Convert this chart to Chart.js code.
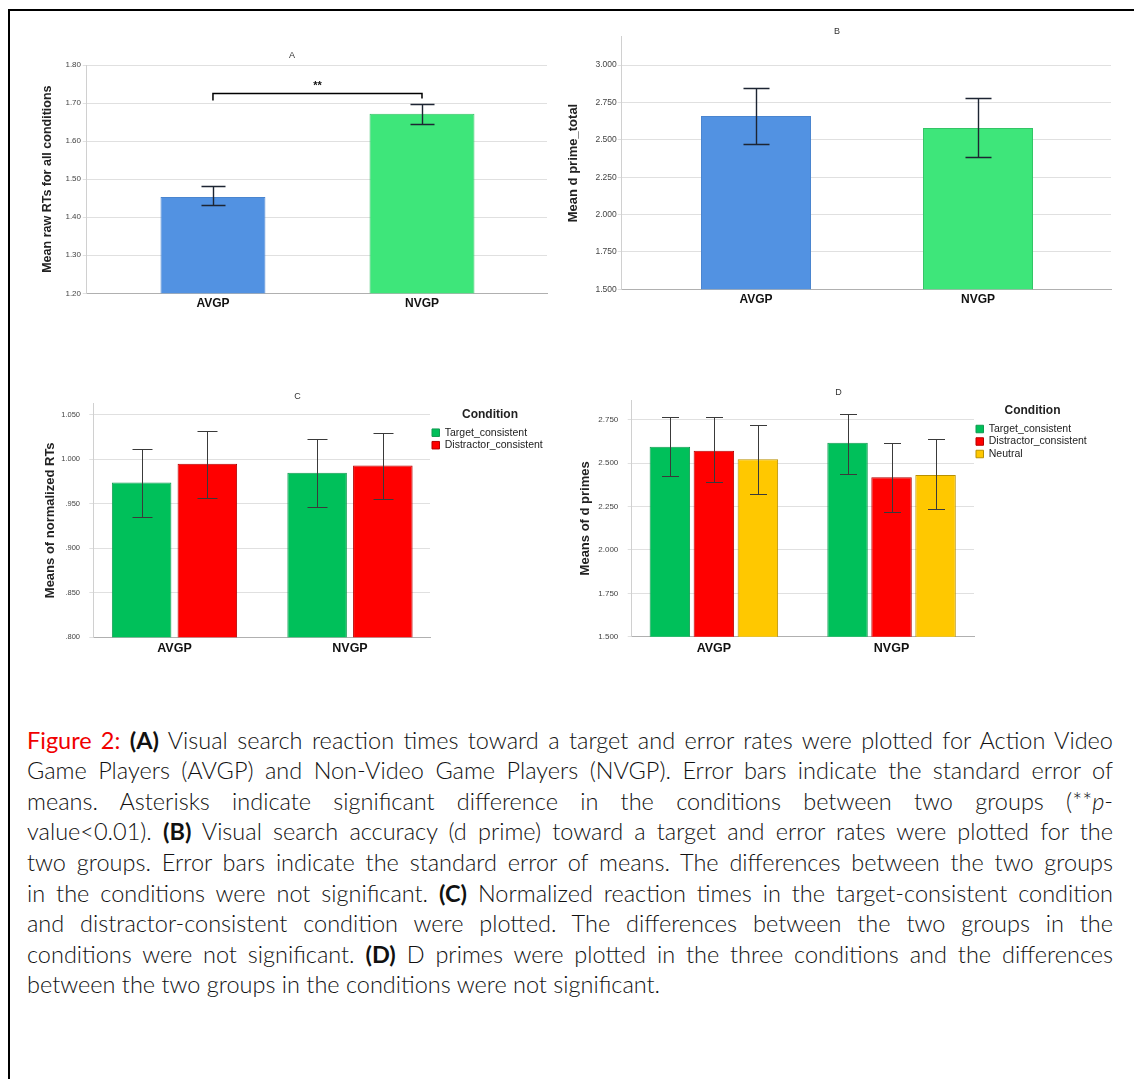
<!DOCTYPE html>
<html>
<head>
<meta charset="utf-8">
<title>Figure 2</title>
<script src="https://cdn.jsdelivr.net/npm/chart.js@4.4.1/dist/chart.umd.min.js"></script>
<style>
  html, body { margin: 0; padding: 0; background: #fff; overflow: hidden; }
  body { width: 1134px; height: 1079px; position: relative; }
  #frame { position: absolute; left: 8px; top: 9px; width: 1200px; height: 1200px;
           border-left: 2px solid #000; border-top: 2px solid #000; }
  canvas { position: absolute; }
  #chartA { left: 37px; top: 40px; }
  #chartB { left: 563px; top: 15px; }
  #chartC { left: 35px; top: 380px; }
  #chartD { left: 576px; top: 375px; }
  #caption { position: absolute; left: 27px; top: 724.7px; width: 1086px;
             font-family: Lato, "Open Sans", sans-serif; font-size: 23.5px; font-weight: 300; color: #111; }
  .ln { height: 30.6px; line-height: 30.6px; white-space: nowrap; text-align: justify; text-align-last: justify; }
  .ln.last { text-align-last: left; }
  .fig { color: #f00000; font-weight: 400; }
  b { font-weight: 700; }
</style>
</head>
<body>
<div id="frame"></div>
<canvas id="chartA" width="528" height="274"></canvas>
<canvas id="chartB" width="558" height="295"></canvas>
<canvas id="chartC" width="520" height="280"></canvas>
<canvas id="chartD" width="520" height="285"></canvas>

<div id="caption">
  <div class="ln"><span class="fig">Figure 2:</span> <b>(A)</b> Visual search reaction times toward a target and error rates were plotted for Action Video</div>
  <div class="ln">Game Players (AVGP) and Non-Video Game Players (NVGP). Error bars indicate the standard error of</div>
  <div class="ln">means. Asterisks indicate significant difference in the conditions between two groups (**<i>p</i>-</div>
  <div class="ln">value&lt;0.01). <b>(B)</b> Visual search accuracy (d prime) toward a target and error rates were plotted for the</div>
  <div class="ln">two groups. Error bars indicate the standard error of means. The differences between the two groups</div>
  <div class="ln">in the conditions were not significant. <b>(C)</b> Normalized reaction times in the target-consistent condition</div>
  <div class="ln">and distractor-consistent condition were plotted. The differences between the two groups in the</div>
  <div class="ln">conditions were not significant. <b>(D)</b> D primes were plotted in the three conditions and the differences</div>
  <div class="ln last">between the two groups in the conditions were not significant.</div>
</div>

<script>
const groups = ['AVGP', 'NVGP'];
const conditions = ['Target_consistent', 'Distractor_consistent', 'Neutral'];

// A: raw RTs
const rtMeans = [1.453, 1.672];
const rtLow = [1.432, 1.646];
const rtHigh = [1.481, 1.698];
const rtTicks = [1.2, 1.3, 1.4, 1.5, 1.6, 1.7, 1.8];
const rtTickLabels = ['1.20', '1.30', '1.40', '1.50', '1.60', '1.70', '1.80'];
const sigBracket = { from: 0, to: 1, level: 1.725, leftEnd: 1.707, rightEnd: 1.712, textAt: 1.746, text: '**' };

// B: d prime total
const dpMeans = [2.66, 2.58];
const dpLow = [2.471, 2.382];
const dpHigh = [2.849, 2.78];
const dpTicks = [1.5, 1.75, 2.0, 2.25, 2.5, 2.75, 3.0];
const dpTickLabels = ['1.500', '1.750', '2.000', '2.250', '2.500', '2.750', '3.000'];

// C: normalized RTs
const nrtTarget = [0.974, 0.985];
const nrtTargetLow = [0.935, 0.946];
const nrtTargetHigh = [1.012, 1.023];
const nrtDistractor = [0.995, 0.993];
const nrtDistractorLow = [0.957, 0.955];
const nrtDistractorHigh = [1.032, 1.030];
const nrtTicks = [0.8, 0.85, 0.9, 0.95, 1.0, 1.05];
const nrtTickLabels = ['.800', '.850', '.900', '.950', '1.000', '1.050'];

// D: d primes per condition
const dTarget = [2.596, 2.619];
const dTargetLow = [2.429, 2.439];
const dTargetHigh = [2.769, 2.785];
const dDistractor = [2.573, 2.42];
const dDistractorLow = [2.394, 2.221];
const dDistractorHigh = [2.769, 2.619];
const dNeutral = [2.524, 2.433];
const dNeutralLow = [2.322, 2.235];
const dNeutralHigh = [2.722, 2.639];
const dTicks = [1.5, 1.75, 2.0, 2.25, 2.5, 2.75];
const dTickLabels = ['1.500', '1.750', '2.000', '2.250', '2.500', '2.750'];

const groupColors = ['#5292e2', '#3ee67a'];
const groupBorders = ['#4a85cf', '#34c466'];
const conditionColors = ['#00c05a', '#ff0000', '#ffc800'];
const conditionBorders = ['#119a50', '#b40000', '#b89000'];

const FONT = '"Liberation Sans", Arial, sans-serif';
Chart.defaults.font.family = FONT;

const pointsFor = values => values.map((v, i) => ({ x: i, y: v }));

const errorBars = {
  id: 'errorBars',
  afterDatasetsDraw(chart, args, opts) {
    const { ctx } = chart;
    const y = chart.scales.y;
    const half = opts.cap / 2;
    ctx.save();
    ctx.strokeStyle = opts.color;
    ctx.lineWidth = opts.width;
    chart.data.datasets.forEach((ds, i) => {
      chart.getDatasetMeta(i).data.forEach((bar, j) => {
        const cx = Math.round(bar.x) + 0.5;
        const top = Math.round(y.getPixelForValue(ds.errHigh[j])) + 0.5;
        const bottom = Math.round(y.getPixelForValue(ds.errLow[j])) + 0.5;
        ctx.beginPath();
        ctx.moveTo(cx, top);
        ctx.lineTo(cx, bottom);
        ctx.moveTo(cx - half, top);
        ctx.lineTo(cx + half, top);
        ctx.moveTo(cx - half, bottom);
        ctx.lineTo(cx + half, bottom);
        ctx.stroke();
      });
    });
    ctx.restore();
  }
};

const bracket = {
  id: 'bracket',
  afterDatasetsDraw(chart, args, opts) {
    if (!opts.text) return;
    const { ctx, scales: { x, y } } = chart;
    const x0 = x.getPixelForValue(opts.from);
    const x1 = x.getPixelForValue(opts.to);
    const yTop = y.getPixelForValue(opts.level);
    ctx.save();
    ctx.strokeStyle = '#000';
    ctx.lineWidth = 1.5;
    ctx.beginPath();
    ctx.moveTo(x0, y.getPixelForValue(opts.leftEnd));
    ctx.lineTo(x0, yTop);
    ctx.lineTo(x1, yTop);
    ctx.lineTo(x1, y.getPixelForValue(opts.rightEnd));
    ctx.stroke();
    ctx.fillStyle = '#111';
    ctx.font = 'bold 11px ' + FONT;
    ctx.textAlign = 'center';
    ctx.textBaseline = 'middle';
    ctx.fillText(opts.text, (x0 + x1) / 2, y.getPixelForValue(opts.textAt));
    ctx.restore();
  }
};

const panel = p => ({
  type: 'bar',
  data: { datasets: p.datasets },
  plugins: p.bracket ? [errorBars, bracket] : [errorBars],
  options: {
    responsive: false,
    animation: false,
    events: [],
    layout: { padding: { left: p.padLeft, right: p.padRight, top: 0, bottom: 0 } },
    datasets: { bar: { categoryPercentage: p.catPct, barPercentage: p.barPct } },
    plugins: {
      title: {
        display: true, text: p.title, color: '#333',
        font: { size: 9, weight: 'normal', lineHeight: 0.8 },
        padding: p.titlePad
      },
      legend: p.legendWidth ? {
        display: true, position: 'right', align: 'start', fullSize: false, maxWidth: p.legendWidth,
        labels: { boxWidth: 7.5, boxHeight: 7.5, padding: 2, color: '#222', font: { size: 10.5 } },
        title: {
          display: true, text: 'Condition', color: '#222',
          font: { size: 12, weight: 'bold' }, padding: p.legendTitlePad
        }
      } : { display: false },
      tooltip: { enabled: false },
      errorBars: p.errors,
      bracket: p.bracket || {}
    },
    scales: {
      x: {
        type: 'linear', min: p.xMin, max: p.xMax, offset: false,
        afterBuildTicks: s => { s.ticks = groups.map((g, i) => ({ value: i })); },
        afterFit: s => { s.height = p.xHeight; },
        grid: { display: false, drawTicks: false, offset: false },
        border: { color: '#b0b0b0' },
        ticks: {
          callback: v => groups[v], color: '#111', maxRotation: 0, padding: p.catPad,
          font: { size: p.catSize, weight: 'bold' }
        }
      },
      y: {
        min: p.yMin, max: p.yMax,
        afterBuildTicks: s => { s.ticks = p.yTicks.map(v => ({ value: v })); },
        afterFit: s => { s.width = p.yWidth; },
        grid: { color: '#e0e0e0', tickLength: 4 },
        border: { color: '#d0d0d0' },
        ticks: {
          callback: (v, i) => p.yTickLabels[i], color: '#444', padding: p.tickPad,
          font: { size: p.tickSize }
        },
        title: {
          display: true, text: p.yTitle, color: '#222',
          font: { size: p.yTitleSize, weight: 'bold', lineHeight: 1 },
          padding: { top: p.yTitlePad, bottom: 0 }
        }
      }
    }
  }
});

new Chart(document.getElementById('chartA'), panel({
  title: 'A', titlePad: { top: 12.4, bottom: 5.4 }, padLeft: 0, padRight: 18,
  xMin: -0.604, xMax: 1.598, xHeight: 20.7, catSize: 12, catPad: 3.5,
  yMin: 1.2, yMax: 1.8, yTicks: rtTicks, yTickLabels: rtTickLabels, yWidth: 49.7,
  tickSize: 8, tickPad: 1.7,
  yTitle: 'Mean raw RTs for all conditions', yTitleSize: 12.5, yTitlePad: 4.75,
  catPct: 1, barPct: 0.502,
  errors: { color: '#1d2533', width: 1.4, cap: 24 },
  bracket: sigBracket,
  datasets: [{
    data: pointsFor(rtMeans), errLow: rtLow, errHigh: rtHigh,
    backgroundColor: groupColors, borderColor: groupBorders, borderWidth: 1
  }]
}));

new Chart(document.getElementById('chartB'), panel({
  title: 'B', titlePad: { top: 13.4, bottom: 1.1 }, padLeft: 0, padRight: 10,
  xMin: -0.605, xMax: 1.599, xHeight: 20.7, catSize: 12, catPad: 3.5,
  yMin: 1.5, yMax: 3.19, yTicks: dpTicks, yTickLabels: dpTickLabels, yWidth: 58.7,
  tickSize: 8.5, tickPad: 1,
  yTitle: 'Mean d prime_total', yTitleSize: 13, yTitlePad: 3.8,
  catPct: 1, barPct: 0.4955,
  errors: { color: '#1d2533', width: 1.4, cap: 26 },
  datasets: [{
    data: pointsFor(dpMeans), errLow: dpLow, errHigh: dpHigh,
    backgroundColor: groupColors, borderColor: groupBorders, borderWidth: 1
  }]
}));

new Chart(document.getElementById('chartC'), panel({
  title: 'C', titlePad: { top: 13.1, bottom: 3.0 }, padLeft: 10, padRight: 5,
  xMin: -0.4626, xMax: 1.456, xHeight: 22.7, catSize: 12.5, catPad: 4.2,
  yMin: 0.8, yMax: 1.063, yTicks: nrtTicks, yTickLabels: nrtTickLabels, yWidth: 48.3,
  tickSize: 7.5, tickPad: 9.3,
  yTitle: 'Means of normalized RTs', yTitleSize: 13, yTitlePad: -1.5,
  catPct: 0.749, barPct: 0.906,
  legendWidth: 120, legendTitlePad: { top: 5, bottom: 2.75 },
  errors: { color: '#3a3a3a', width: 1, cap: 20 },
  datasets: [
    { label: conditions[0], data: pointsFor(nrtTarget), errLow: nrtTargetLow, errHigh: nrtTargetHigh,
      backgroundColor: conditionColors[0], borderColor: conditionBorders[0], borderWidth: 1 },
    { label: conditions[1], data: pointsFor(nrtDistractor), errLow: nrtDistractorLow, errHigh: nrtDistractorHigh,
      backgroundColor: conditionColors[1], borderColor: conditionBorders[1], borderWidth: 1 }
  ]
}));

new Chart(document.getElementById('chartD'), panel({
  title: 'D', titlePad: { top: 14.1, bottom: 3.7 }, padLeft: 10, padRight: 5,
  xMin: -0.4625, xMax: 1.464, xHeight: 23.3, catSize: 12.5, catPad: 4.1,
  yMin: 1.5, yMax: 2.865, yTicks: dTicks, yTickLabels: dTickLabels, yWidth: 45.7,
  tickSize: 8, tickPad: 9.4,
  yTitle: 'Means of d primes', yTitleSize: 13, yTitlePad: -7.5,
  catPct: 0.743, barPct: 0.92,
  legendWidth: 117, legendTitlePad: { top: 4.7, bottom: 2.65 },
  errors: { color: '#3a3a3a', width: 1, cap: 17 },
  datasets: [
    { label: conditions[0], data: pointsFor(dTarget), errLow: dTargetLow, errHigh: dTargetHigh,
      backgroundColor: conditionColors[0], borderColor: conditionBorders[0], borderWidth: 1 },
    { label: conditions[1], data: pointsFor(dDistractor), errLow: dDistractorLow, errHigh: dDistractorHigh,
      backgroundColor: conditionColors[1], borderColor: conditionBorders[1], borderWidth: 1 },
    { label: conditions[2], data: pointsFor(dNeutral), errLow: dNeutralLow, errHigh: dNeutralHigh,
      backgroundColor: conditionColors[2], borderColor: conditionBorders[2], borderWidth: 1 }
  ]
}));
</script>
</body>
</html>
